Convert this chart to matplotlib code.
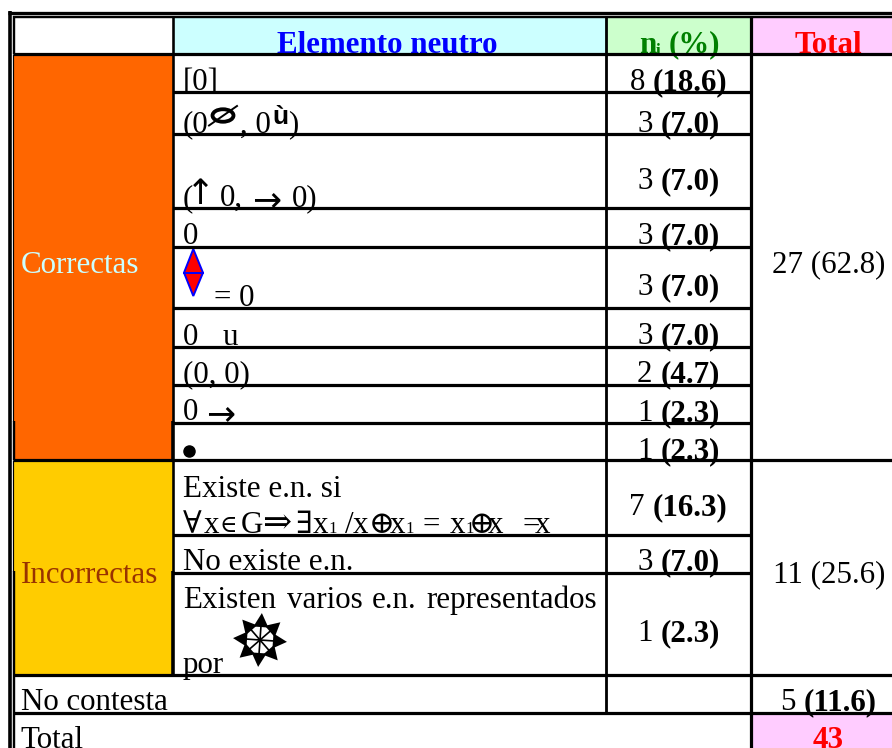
import numpy as np
import matplotlib as mpl
import matplotlib.pyplot as plt
from matplotlib.patches import Rectangle, Polygon, Ellipse

mpl.use('agg')

# table content
headers = ["Elemento neutro", "(%)", "Total"]
groups = ["Correctas", "Incorrectas"]
group_counts = ["27 (62.8)", "11 (25.6)"]
counts = ["8", "3", "3", "3", "3", "3", "2", "1", "1", "7", "3", "1"]
percents = ["(18.6)", "(7.0)", "(7.0)", "(7.0)", "(7.0)", "(7.0)", "(4.7)", "(2.3)", "(2.3)", "(16.3)", "(7.0)", "(2.3)"]
no_answer = "No contesta"
no_answer_count = "5"
no_answer_percent = "(11.6)"
total_label = "Total"
total_value = "43"

# layout, all in picture pixels
count_baselines = [89, 131, 188, 243, 294, 343, 381, 420, 458, 514, 569, 640]
row_rules = [92, 134, 208, 246.5, 308, 346.7, 384.7, 422.7, 534.7, 572.7]
full_rules = [53.5, 460, 674.7, 712.7]
col_x = [173, 606, 751]
w, h = 892, 748
serif = ['Liberation Serif', 'DejaVu Serif', 'DejaVu Sans']
fs = 22.3
shift = 1.2

plt.rcParams['font.family'] = serif
fig = plt.figure(figsize=(w / 100, h / 100), dpi=100)
ax = fig.add_axes([0, 0, 1, 1])
ax.set_xlim(0, w)
ax.set_ylim(h, 0)
ax.axis('off')
rend = fig.canvas.get_renderer()


def put(x, y, s, size=fs, color='black', weight='normal', ha='left', family=None):
    return ax.text(x, y + shift, s, fontsize=size, color=color, fontweight=weight, ha=ha,
                   va='baseline', family=family or serif, zorder=3)


def count_cell(center, y, count, pct):
    t1 = put(0, y, count)
    t2 = put(0, y, pct, weight='bold')
    w1 = t1.get_window_extent(rend).width
    w2 = t2.get_window_extent(rend).width
    start = center - (w1 + 8 + w2) / 2
    t1.set_x(start)
    t2.set_x(start + w1 + 8)


def hline(y, x0, x1, px=3.2):
    ax.plot([x0, x1], [y, y], color='black', lw=px * 0.72, solid_capstyle='butt', zorder=4)


def vline(x, y0, y1, px=3.2):
    ax.plot([x, x], [y0, y1], color='black', lw=px * 0.72, solid_capstyle='butt', zorder=4)


# cell fills
for x, y, cw, ch, c in [(13.5, 53.5, 159.5, 406.5, '#FF6600'), (13.5, 460, 159.5, 214.7, '#FFCC00'),
                        (173, 16.5, 433, 37, '#CCFFFF'), (606, 16.5, 145, 37, '#CCFFCC'),
                        (751, 16.5, 141, 37, '#FFCCFF'), (751, 712.7, 141, 36, '#FFCCFF')]:
    ax.add_patch(Rectangle((x, y), cw, ch, facecolor=c, edgecolor='none', zorder=1))

# rules
hline(12.5, 8.3, w, 3.3)
hline(16.7, 12.7, w, 2.4)
vline(10, 11, h, 3.6)
vline(13.7, 16, 54, 2.4)
vline(13.2, 54, 421, 1.2)
vline(13.7, 421, 460, 2.4)
vline(13.2, 460, 571, 1.2)
vline(13.7, 571, h, 2.4)
for y in row_rules:
    hline(y, col_x[0], col_x[2])
for y in full_rules:
    hline(y, 13, w)
vline(col_x[0], 16, 421, 2.6)
vline(col_x[0] - 0.5, 421, 460, 3.6)
vline(col_x[0], 460, 571, 2.6)
vline(col_x[0] - 0.5, 571, 675, 3.6)
vline(col_x[1], 16, 714, 2.8)
vline(col_x[2], 16, h, 3.2)

# headers
put(387.5, 51.5, headers[0], color='#0000FF', weight='bold', ha='center')
put(639, 51.5, "n", color='#008000', weight='bold')
put(656, 54, "i", size=12.5, color='#008000', weight='bold')
put(669, 51.5, headers[1], color='#008000', weight='bold')
put(828, 51.5, headers[2], color='#FF0000', weight='bold', ha='center')

# left column
put(20.7, 271.5, groups[0], color='#CCFFFF')
put(21, 581.5, groups[1], color='#993300')
put(20.7, 709, no_answer)
put(20.7, 746.5, total_label)

# answers
put(183, 89, "[0]")

put(183, 131.5, "(0")
ax.add_patch(Ellipse((223, 115.5), 21, 12.5, fill=False, edgecolor='black', lw=3.8 * 0.72, zorder=3))
ax.plot([209, 237], [125.5, 106], color='black', lw=1.4, zorder=3)
put(240, 131.5, ", 0")
put(272, 122.5, "ù", size=19, family=['Liberation Sans'], weight='bold')
put(288, 131.5, ")")

put(183, 205, "(")
put(200, 203, "↑", size=25, ha='center', family=['DejaVu Sans'])
put(220, 205, "0,")
put(252, 209, "→", size=25, family=['DejaVu Sans'])
put(292, 205, "0)")

put(183, 243, "0")

ax.add_patch(Polygon([[193.3, 249], [203, 272.7], [193.3, 296], [184, 272.7]], closed=True,
                     facecolor='#FF0000', edgecolor='#0000FF', lw=1.4, zorder=3))
ax.plot([184, 203], [272.7, 272.7], color='#0000FF', lw=1.4, zorder=3)
put(214, 305, "= 0")

put(183, 343.3, "0")
put(222.7, 343.3, "u")
put(183, 381.5, "(0, 0)")
put(183, 419, "0")
put(206, 423, "→", size=25, family=['DejaVu Sans'])
ax.plot([189], [450.7], marker='o', ms=8, color='black', zorder=3)

put(183, 495.7, "Existe e.n. si")

# second line of the formula, glyphs sit at their own spots
for x, s in [(183, "∀"), (204, "x"), (240.7, "G"), (295, "∃"), (313, "x"),
             (345, "/"), (353, "x"), (369, "⊕"), (390, "x"), (423, "="), (450, "x"), (469, "⊕"),
             (488, "x"), (522, "="), (535, "x")]:
    put(x, 532, s)
put(220, 531, "∈", size=17)
put(262, 532, "⇒", size=25)
for x in [328, 405, 465]:
    put(x, 532, "1", size=12)

put(183, 569, "No existe e.n.")
for x, s in [(183, "Existen"), (286.7, "varios"), (371.7, "e.n."), (426.7, "representados")]:
    put(x, 607, s)
put(183, 671.7, "por")

# the eight arrow glyph
cx, cy = 260, 640
for a in np.deg2rad(np.arange(0, 360, 45) + 4):
    d = np.array([np.cos(a), np.sin(a)])
    n = np.array([-d[1], d[0]])
    c0 = np.array([cx, cy])
    ax.add_patch(Polygon([c0 + 27 * d, c0 + 13 * d + 7.5 * n, c0 + 13 * d - 7.5 * n], closed=True,
                         facecolor='black', edgecolor='none', zorder=3))
    ax.plot([cx, cx + 14 * d[0]], [cy, cy + 14 * d[1]], color='black', lw=1.2, zorder=3)

# counts
for y, c, p in zip(count_baselines, counts, percents):
    count_cell(678.5, y, c, p)
put(828.5, 271.5, group_counts[0], ha='center')
put(829.5, 581.5, group_counts[1], ha='center')
count_cell(828, 709, no_answer_count, no_answer_percent)
put(828, 746.5, total_value, color='#FF0000', weight='bold', ha='center')

fig.savefig('out.png', dpi=100)
